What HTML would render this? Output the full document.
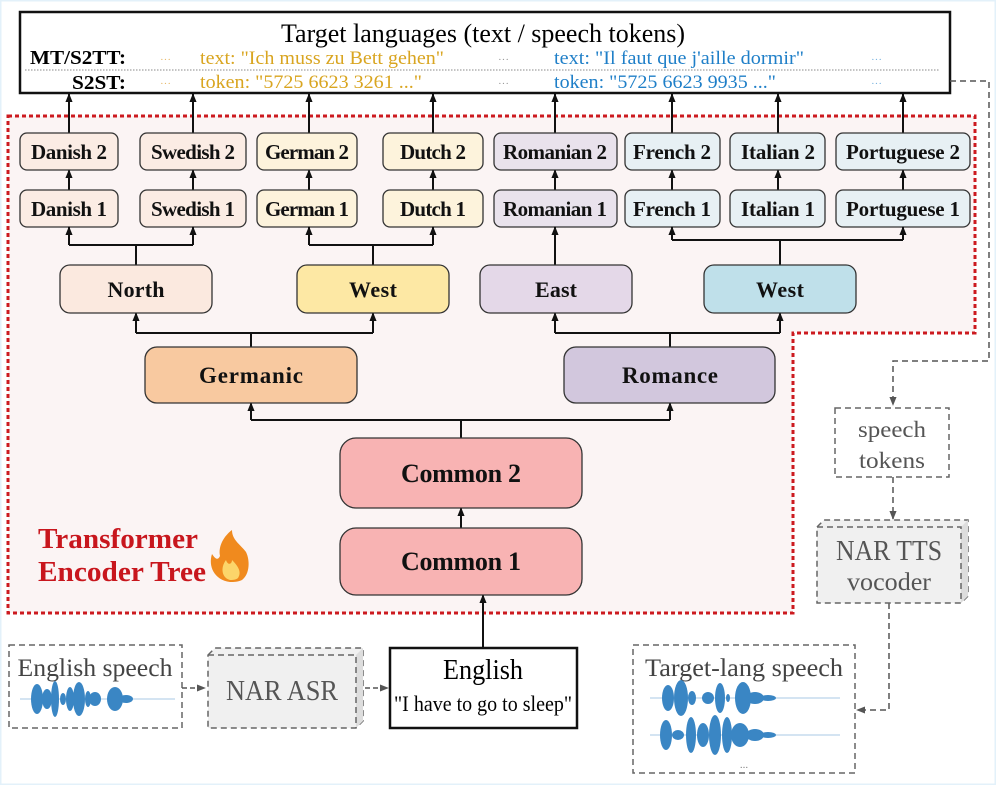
<!DOCTYPE html>
<html><head><meta charset="utf-8"><style>
html,body{margin:0;padding:0;background:#fff;}
svg{display:block;}
text{font-family:"Liberation Serif",serif;}
.b{font-weight:bold;}
</style></head><body>
<svg width="996" height="785" viewBox="0 0 996 785" xmlns="http://www.w3.org/2000/svg">
<defs>
<marker id="a" viewBox="0 0 10 10" refX="9" refY="5" markerWidth="9" markerHeight="9" markerUnits="userSpaceOnUse" orient="auto"><path d="M0,1 L10,5 L0,9 z" fill="#111"/></marker>
<marker id="g" viewBox="0 0 10 10" refX="9" refY="5" markerWidth="9" markerHeight="9" markerUnits="userSpaceOnUse" orient="auto"><path d="M0,1 L10,5 L0,9 z" fill="#555"/></marker>
</defs>
<rect x="0.5" y="0.5" width="995" height="784" fill="#fff" stroke="#e3f1fa" stroke-width="2"/>
<path d="M8,116 H975 V333 H793 V613 H8 Z" fill="#fbf4f4" stroke="#cc1a1f" stroke-width="3" stroke-dasharray="4,3"/>
<rect x="20" y="12" width="930" height="81" fill="#fff" stroke="#111" stroke-width="2.5"/>
<text x="483" y="42" font-size="26" text-anchor="middle" textLength="404" lengthAdjust="spacingAndGlyphs">Target languages (text / speech tokens)</text>
<line x1="25" y1="70" x2="940" y2="70" stroke="#888" stroke-dasharray="1.5,1.5"/>
<text x="126" y="64" font-size="20" class="b" text-anchor="end" textLength="96" lengthAdjust="spacingAndGlyphs">MT/S2TT:</text>
<text x="126" y="89" font-size="20" class="b" text-anchor="end" textLength="54" lengthAdjust="spacingAndGlyphs">S2ST:</text>
<g font-size="19">
<text x="160" y="63" fill="#e8b96a" font-size="11">···</text><text x="160" y="87" fill="#e8b96a" font-size="11">···</text>
<text x="200" y="64" fill="#d9a520" textLength="244" lengthAdjust="spacingAndGlyphs">text: "Ich muss zu Bett gehen"</text>
<text x="200" y="88" fill="#d9a520" textLength="222" lengthAdjust="spacingAndGlyphs">token: "5725 6623 3261 ..."</text>
<text x="498" y="63" fill="#999" font-size="11">···</text><text x="498" y="87" fill="#999" font-size="11">···</text>
<text x="554" y="64" fill="#1f7fc8" textLength="250" lengthAdjust="spacingAndGlyphs">text: "Il faut que j'aille dormir"</text>
<text x="554" y="88" fill="#1f7fc8" textLength="222" lengthAdjust="spacingAndGlyphs">token: "5725 6623 9935 ..."</text>
<text x="871" y="63" fill="#7ab4e0" font-size="11">···</text><text x="871" y="87" fill="#7ab4e0" font-size="11">···</text>
</g>
<g stroke="#111" stroke-width="2" marker-end="url(#a)">
<line x1="69" y1="133" x2="69" y2="94"/><line x1="193" y1="133" x2="193" y2="94"/><line x1="309" y1="133" x2="309" y2="94"/><line x1="433" y1="133" x2="433" y2="94"/><line x1="555" y1="133" x2="555" y2="94"/><line x1="672" y1="133" x2="672" y2="94"/><line x1="778" y1="133" x2="778" y2="94"/><line x1="903" y1="133" x2="903" y2="94"/>
<line x1="69" y1="190" x2="69" y2="170"/><line x1="193" y1="190" x2="193" y2="170"/><line x1="309" y1="190" x2="309" y2="170"/><line x1="433" y1="190" x2="433" y2="170"/><line x1="555" y1="190" x2="555" y2="170"/><line x1="672" y1="190" x2="672" y2="170"/><line x1="778" y1="190" x2="778" y2="170"/><line x1="903" y1="190" x2="903" y2="170"/>
</g>
<g stroke="#333" stroke-width="1.3">
<rect x="20" y="133" width="98" height="37" rx="7" fill="#fbece4"/><rect x="20" y="190" width="98" height="37" rx="7" fill="#fbece4"/>
<rect x="140" y="133" width="106" height="37" rx="7" fill="#fbece4"/><rect x="140" y="190" width="106" height="37" rx="7" fill="#fbece4"/>
<rect x="257" y="133" width="100" height="37" rx="7" fill="#fdf3dc"/><rect x="257" y="190" width="100" height="37" rx="7" fill="#fdf3dc"/>
<rect x="383" y="133" width="100" height="37" rx="7" fill="#fdf3dc"/><rect x="383" y="190" width="100" height="37" rx="7" fill="#fdf3dc"/>
<rect x="494" y="133" width="123" height="37" rx="7" fill="#e9e2ec"/><rect x="494" y="190" width="123" height="37" rx="7" fill="#e9e2ec"/>
<rect x="625" y="133" width="95" height="37" rx="7" fill="#e7f0f4"/><rect x="625" y="190" width="95" height="37" rx="7" fill="#e7f0f4"/>
<rect x="730" y="133" width="95" height="37" rx="7" fill="#e7f0f4"/><rect x="730" y="190" width="95" height="37" rx="7" fill="#e7f0f4"/>
<rect x="836" y="133" width="134" height="37" rx="7" fill="#e7f0f4"/><rect x="836" y="190" width="134" height="37" rx="7" fill="#e7f0f4"/>
</g>
<g font-size="21" class="b" text-anchor="middle" fill="#111" lengthAdjust="spacingAndGlyphs">
<text x="69" y="159" textLength="76">Danish 2</text><text x="69" y="216" textLength="76">Danish 1</text>
<text x="193" y="159" textLength="84">Swedish 2</text><text x="193" y="216" textLength="84">Swedish 1</text>
<text x="307" y="159" textLength="84">German 2</text><text x="307" y="216" textLength="84">German 1</text>
<text x="433" y="159" textLength="66">Dutch 2</text><text x="433" y="216" textLength="66">Dutch 1</text>
<text x="555" y="159" textLength="104">Romanian 2</text><text x="555" y="216" textLength="104">Romanian 1</text>
<text x="672" y="159" textLength="78">French 2</text><text x="672" y="216" textLength="78">French 1</text>
<text x="778" y="159" textLength="74">Italian 2</text><text x="778" y="216" textLength="74">Italian 1</text>
<text x="903" y="159" textLength="114">Portuguese 2</text><text x="903" y="216" textLength="114">Portuguese 1</text>
</g>
<g stroke="#111" stroke-width="2" fill="none">
<path d="M136,265 V245 M69,245 H193 M373,265 V245 M309,245 H433 M780,265 V240 M672,240 H903"/>
<path d="M251,347 V333 M136,333 H373 M670,347 V333 M555,333 H780"/>
<path d="M461,438 V420 M251,420 H670"/>
</g>
<g stroke="#111" stroke-width="2" marker-end="url(#a)">
<line x1="69" y1="245" x2="69" y2="227"/><line x1="193" y1="245" x2="193" y2="227"/>
<line x1="309" y1="245" x2="309" y2="227"/><line x1="433" y1="245" x2="433" y2="227"/>
<line x1="555" y1="265" x2="555" y2="227"/>
<line x1="672" y1="240" x2="672" y2="227"/><line x1="903" y1="240" x2="903" y2="227"/>
<line x1="136" y1="333" x2="136" y2="313"/><line x1="373" y1="333" x2="373" y2="313"/>
<line x1="555" y1="333" x2="555" y2="313"/><line x1="780" y1="333" x2="780" y2="313"/>
<line x1="251" y1="420" x2="251" y2="403"/><line x1="670" y1="420" x2="670" y2="403"/>
<line x1="461" y1="528" x2="461" y2="508"/>
<line x1="483" y1="648" x2="483" y2="595"/>
</g>
<g stroke="#333" stroke-width="1.3">
<rect x="60" y="265" width="152" height="48" rx="10" fill="#fbe9df"/>
<rect x="297" y="265" width="152" height="48" rx="10" fill="#fde8a4"/>
<rect x="480" y="265" width="152" height="48" rx="10" fill="#e4d8e8"/>
<rect x="704" y="265" width="152" height="48" rx="10" fill="#bfe0ea"/>
<rect x="145" y="347" width="212" height="56" rx="12" fill="#f8c9a0"/>
<rect x="564" y="347" width="211" height="56" rx="12" fill="#d2c7dd"/>
<rect x="340" y="438" width="242" height="70" rx="16" fill="#f8b3b3"/>
<rect x="340" y="528" width="242" height="67" rx="16" fill="#f8b3b3"/>
</g>
<g font-size="22" class="b" text-anchor="middle" fill="#111" lengthAdjust="spacingAndGlyphs">
<text x="136" y="297" textLength="57">North</text><text x="373" y="297" textLength="48">West</text><text x="556" y="297" textLength="42">East</text><text x="780" y="297" textLength="48">West</text>
<text x="251" y="383" font-size="23" textLength="104">Germanic</text><text x="670" y="383" font-size="23" textLength="96">Romance</text>
<text x="461" y="482" font-size="26" textLength="120">Common 2</text><text x="461" y="570" font-size="26" textLength="120">Common 1</text>
</g>
<text x="38" y="548" font-size="28" class="b" fill="#c8161d" textLength="160" lengthAdjust="spacingAndGlyphs">Transformer</text>
<text x="38" y="581" font-size="28" class="b" fill="#c8161d" textLength="168" lengthAdjust="spacingAndGlyphs">Encoder Tree</text>
<path d="M230,582 C214,580 208,566 212,554 C216,560 218,560 220,556 C218,546 224,536 232,530 C232,540 240,544 246,552 C250,560 250,574 242,580 C238,582 234,582 230,582 Z" fill="#f08a1e"/>
<path d="M230,580 C222,578 220,568 226,560 C228,566 232,564 232,560 C238,566 242,572 238,578 C236,580 232,580 230,580 Z" fill="#fcd56a"/>
<rect x="9" y="645" width="173" height="83" fill="#fff" stroke="#666" stroke-width="1.5" stroke-dasharray="6,4"/>
<text x="95" y="676" font-size="25" text-anchor="middle" fill="#444" textLength="155" lengthAdjust="spacingAndGlyphs">English speech</text>
<path d="M20,699 H175" stroke="#a8c8e6" stroke-width="1"/>
<g fill="#3a86c4">
<ellipse cx="37" cy="699" rx="6" ry="15"/><ellipse cx="47" cy="699" rx="5" ry="10"/><ellipse cx="55" cy="699" rx="4" ry="18"/><ellipse cx="63" cy="699" rx="3" ry="6"/>
<ellipse cx="70" cy="699" rx="4" ry="12"/><ellipse cx="79" cy="699" rx="6" ry="17"/><ellipse cx="88" cy="699" rx="3" ry="8"/><ellipse cx="95" cy="699" rx="6" ry="7"/>
<ellipse cx="115" cy="699" rx="8" ry="12"/><ellipse cx="126" cy="699" rx="7" ry="4"/>
</g>
<path d="M208,655 L215,648 H363 V721 L356,728 H208 Z" fill="#f0f0f0" stroke="#666" stroke-width="1.5" stroke-dasharray="6,4"/>
<path d="M356,655 L363,648 V721 L356,728 Z" fill="#ddd"/>
<path d="M208,655 H356 V728" fill="none" stroke="#666" stroke-width="1.5" stroke-dasharray="6,4"/>
<text x="282" y="700" font-size="28" text-anchor="middle" fill="#555" textLength="112" lengthAdjust="spacingAndGlyphs">NAR ASR</text>
<g stroke="#555" stroke-width="1.5" stroke-dasharray="5,3" fill="none">
<path d="M182,688 H205" marker-end="url(#g)"/>
<path d="M365,688 H388" marker-end="url(#g)"/>
</g>
<rect x="390" y="648" width="187" height="80" fill="#fff" stroke="#111" stroke-width="2.5"/>
<text x="483" y="679" font-size="28" text-anchor="middle" textLength="80" lengthAdjust="spacingAndGlyphs">English</text>
<text x="483" y="711" font-size="22" text-anchor="middle" textLength="178" lengthAdjust="spacingAndGlyphs">"I have to go to sleep"</text>
<g stroke="#555" stroke-width="1.5" stroke-dasharray="6,4" fill="none">
<path d="M950,81 H989 V361 H893 V405" marker-end="url(#g)"/>
<path d="M893,477 V519" marker-end="url(#g)"/>
<path d="M889,603 V710 H857" marker-end="url(#g)"/>
</g>
<rect x="835" y="408" width="114" height="69" fill="#fff" stroke="#666" stroke-width="1.5" stroke-dasharray="6,4"/>
<text x="892" y="437" font-size="23" text-anchor="middle" fill="#555" textLength="68" lengthAdjust="spacingAndGlyphs">speech</text>
<text x="892" y="468" font-size="23" text-anchor="middle" fill="#555" textLength="66" lengthAdjust="spacingAndGlyphs">tokens</text>
<path d="M817,527 L824,520 H968 V596 L961,603 H817 Z" fill="#f0f0f0" stroke="#666" stroke-width="1.5" stroke-dasharray="6,4"/>
<path d="M961,527 L968,520 V596 L961,603 Z" fill="#ddd"/>
<path d="M817,527 H961 V603" fill="none" stroke="#666" stroke-width="1.5" stroke-dasharray="6,4"/>
<text x="889" y="560" font-size="28" text-anchor="middle" fill="#555" textLength="106" lengthAdjust="spacingAndGlyphs">NAR TTS</text>
<text x="889" y="590" font-size="25" text-anchor="middle" fill="#555" textLength="84" lengthAdjust="spacingAndGlyphs">vocoder</text>
<rect x="633" y="645" width="222" height="128" fill="#fff" stroke="#666" stroke-width="1.5" stroke-dasharray="6,4"/>
<text x="744" y="676" font-size="25" text-anchor="middle" fill="#444" textLength="198" lengthAdjust="spacingAndGlyphs">Target-lang speech</text>
<path d="M650,698 H840 M650,735 H840" stroke="#a8c8e6" stroke-width="1"/>
<g fill="#3a86c4">
<ellipse cx="668" cy="698" rx="6" ry="13"/><ellipse cx="681" cy="698" rx="7" ry="18"/><ellipse cx="692" cy="698" rx="4" ry="7"/>
<ellipse cx="708" cy="698" rx="6" ry="6"/><ellipse cx="720" cy="698" rx="5" ry="15"/><ellipse cx="728" cy="698" rx="2" ry="4"/>
<ellipse cx="743" cy="698" rx="8" ry="16"/><ellipse cx="755" cy="698" rx="9" ry="6"/><ellipse cx="768" cy="698" rx="8" ry="3"/>
<ellipse cx="666" cy="735" rx="6" ry="15"/><ellipse cx="678" cy="735" rx="6" ry="5"/><ellipse cx="691" cy="735" rx="5" ry="18"/>
<ellipse cx="703" cy="735" rx="6" ry="12"/><ellipse cx="715" cy="735" rx="6" ry="20"/><ellipse cx="727" cy="735" rx="5" ry="18"/>
<ellipse cx="740" cy="735" rx="9" ry="12"/><ellipse cx="755" cy="735" rx="9" ry="6"/><ellipse cx="768" cy="735" rx="8" ry="3"/>
</g>
<text x="744" y="768" font-size="11" text-anchor="middle" fill="#888">...</text>
</svg>
</body></html>
